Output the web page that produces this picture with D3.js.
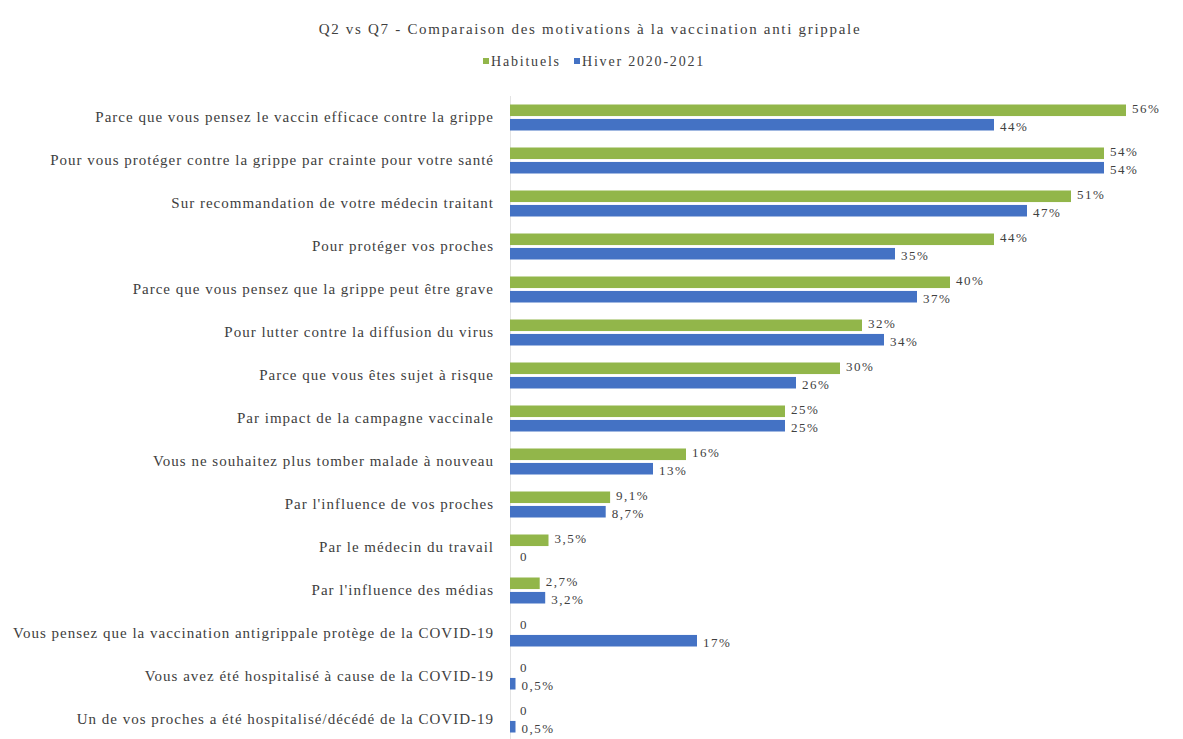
<!DOCTYPE html>
<html>
<head>
<meta charset="utf-8">
<script src="https://cdn.jsdelivr.net/npm/d3@7"></script>
<style>
  body { margin: 0; background: #fff; }
  svg { display: block; font-family: "Liberation Serif", "Times New Roman", serif; }
</style>
</head>
<body>
<svg id="chart" width="1183" height="739"></svg>
<script>
const title = "Q2 vs Q7 - Comparaison des motivations à la vaccination anti grippale";
const seriesNames = ["Habituels", "Hiver 2020-2021"];
const categories = [
  "Parce que vous pensez le vaccin efficace contre la grippe",
  "Pour vous protéger contre la grippe par crainte pour votre santé",
  "Sur recommandation de votre médecin traitant",
  "Pour protéger vos proches",
  "Parce que vous pensez que la grippe peut être grave",
  "Pour lutter contre la diffusion du virus",
  "Parce que vous êtes sujet à risque",
  "Par impact de la campagne vaccinale",
  "Vous ne souhaitez plus tomber malade à nouveau",
  "Par l'influence de vos proches",
  "Par le médecin du travail",
  "Par l'influence des médias",
  "Vous pensez que la vaccination antigrippale protège de la COVID-19",
  "Vous avez été hospitalisé à cause de la COVID-19",
  "Un de vos proches a été hospitalisé/décédé de la COVID-19"
];
const habituels = [56, 54, 51, 44, 40, 32, 30, 25, 16, 9.1, 3.5, 2.7, 0, 0, 0];
const hiver = [44, 54, 47, 35, 37, 34, 26, 25, 13, 8.7, 0, 3.2, 17, 0.5, 0.5];

const colors = ["#92B64A", "#4472C4"];
const fmt = v => v === 0 ? "0" : (v < 10 ? d3.format(".1f")(v).replace(".", ",") + "%" : d3.format(".0f")(v) + "%");

const svg = d3.select("#chart");
const x = d3.scaleLinear().domain([0, 60]).range([510, 1170]);
const y = d3.scaleBand().domain(categories).range([95.5, 740.5]).padding(0);
const inner = d3.scaleBand().domain(seriesNames).range([9, 35]).paddingInner(0.2);

// title
svg.append("text").attr("x", 590).attr("y", 34).attr("text-anchor", "middle")
  .attr("font-size", 15).attr("letter-spacing", 1.7).attr("fill", "#404040").text(title);

// legend
const legend = svg.append("g").attr("font-size", 14).attr("letter-spacing", 1.8).attr("fill", "#404040");
const legendItems = [{name: seriesNames[0], x: 483}, {name: seriesNames[1], x: 574}];
legendItems.forEach((d, i) => {
  legend.append("rect").attr("x", d.x).attr("y", 58).attr("width", 6).attr("height", 6).attr("fill", colors[i]);
  legend.append("text").attr("x", d.x + 8).attr("y", 66).text(d.name);
});

// axis
const axis = d3.axisLeft(y).tickSize(0).tickPadding(16);
const gAxis = svg.append("g").attr("transform", "translate(510,0)").call(axis);
gAxis.select(".domain").attr("stroke", "#e3e3e3");
gAxis.selectAll("text").attr("font-size", 15).attr("letter-spacing", 1).attr("fill", "#404040")
  .attr("font-family", "Liberation Serif, serif").attr("dy", "0.35em");

const data = categories.map((c, i) => ({cat: c, vals: [habituels[i], hiver[i]]}));
const groups = svg.append("g").selectAll("g").data(data).join("g")
  .attr("transform", d => `translate(0,${y(d.cat)})`);

groups.selectAll("rect").data(d => d.vals.map((v, i) => ({v, s: seriesNames[i], i})))
  .join("rect")
  .attr("x", x(0))
  .attr("y", d => inner(d.s))
  .attr("width", d => x(d.v) - x(0))
  .attr("height", inner.bandwidth())
  .attr("fill", d => colors[d.i]);

groups.selectAll("text.lbl").data(d => d.vals.map((v, i) => ({v, s: seriesNames[i], i})))
  .join("text").attr("class", "lbl")
  .attr("x", d => x(d.v) + (d.v === 0 ? 10 : 6))
  .attr("y", d => inner(d.s) + inner.bandwidth() / 2 + (d.i === 0 ? 3 : 6))
  .attr("font-size", 13).attr("letter-spacing", 1.5).attr("fill", "#404040")
  .text(d => fmt(d.v));
</script>
</body>
</html>
